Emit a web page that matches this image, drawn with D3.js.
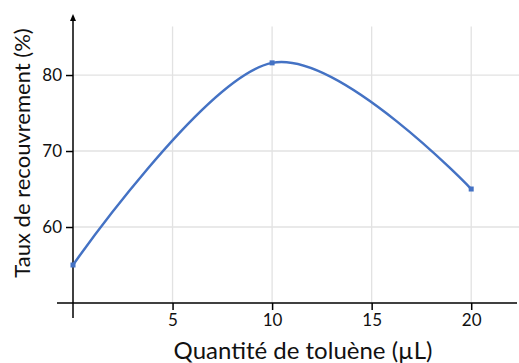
<!DOCTYPE html>
<html><head><meta charset="utf-8">
<script src="https://cdn.jsdelivr.net/npm/d3@7"></script>
<style>body{margin:0;background:#fff}svg{display:block}</style>
</head><body>
<svg id="c" width="519" height="363"></svg>
<script>
const xValues = [0, 10, 20];
const yValues = [55, 81.6, 65];
const xTicks = [5, 10, 15, 20];
const yTicks = [60, 70, 80];
const xTitle = "Quantité de toluène (µL)";
const yTitle = "Taux de recouvrement (%)";

const svg = d3.select("#c");
const font = "Lato, 'Open Sans', sans-serif";
const x = d3.scaleLinear().domain([0, 22.3]).range([73, 517]);
const y = d3.scaleLinear().domain([50, 87.9]).range([303, 15]);

// grid
svg.append("g").selectAll("line").data(xTicks).join("line")
  .attr("x1", d => x(d)).attr("x2", d => x(d))
  .attr("y1", y(86.4)).attr("y2", y(50))
  .attr("stroke", "#e2e2e2").attr("stroke-width", 1.3);
svg.append("g").selectAll("line").data(yTicks).join("line")
  .attr("x1", x(0)).attr("x2", 519)
  .attr("y1", d => y(d)).attr("y2", d => y(d))
  .attr("stroke", "#e2e2e2").attr("stroke-width", 1.3);

// x axis
const xa = svg.append("g").attr("transform", `translate(0,${y(50)})`)
  .call(d3.axisBottom(x).tickValues(xTicks).tickSize(7).tickSizeOuter(0).tickPadding(4));
xa.select(".domain").remove();
xa.selectAll("line").attr("stroke", "#000").attr("stroke-width", 1.5);
xa.selectAll("text").attr("font-family", font).attr("font-size", 17).attr("fill", "#111");
svg.append("line").attr("x1", 57).attr("x2", 517).attr("y1", y(50)).attr("y2", y(50))
  .attr("stroke", "#000").attr("stroke-width", 1.5);

// y axis
const ya = svg.append("g").attr("transform", `translate(${x(0)},0)`)
  .call(d3.axisLeft(y).tickValues(yTicks).tickSize(7).tickSizeOuter(0).tickPadding(4));
ya.select(".domain").remove();
ya.selectAll("line").attr("stroke", "#000").attr("stroke-width", 1.5);
ya.selectAll("text").attr("font-family", font).attr("font-size", 17).attr("fill", "#111");
svg.append("line").attr("x1", x(0)).attr("x2", x(0)).attr("y1", 318).attr("y2", 19)
  .attr("stroke", "#000").attr("stroke-width", 1.5);
svg.append("path").attr("d", `M${x(0)-3},${21} L${x(0)},${14} L${x(0)+3},${21} Z`).attr("fill", "#000");

// line
const pts = xValues.map((v, i) => [v, yValues[i]]);
svg.append("path").datum(pts)
  .attr("d", d3.line().x(d => x(d[0])).y(d => y(d[1])).curve(d3.curveCardinal.tension(0)))
  .attr("fill", "none").attr("stroke", "#4472C4").attr("stroke-width", 2.5);
svg.append("g").selectAll("rect").data(pts).join("rect")
  .attr("x", d => x(d[0]) - 2.5).attr("y", d => y(d[1]) - 2.5)
  .attr("width", 5).attr("height", 5).attr("fill", "#4472C4");

// titles
svg.append("text").attr("x", 303).attr("y", 359).attr("text-anchor", "middle")
  .attr("font-family", font).attr("font-size", 24).attr("fill", "#111").text(xTitle);
svg.append("text").attr("transform", `translate(30,153) rotate(-90)`).attr("text-anchor", "middle")
  .attr("font-family", font).attr("font-size", 22).attr("fill", "#111").text(yTitle);
</script>
</body></html>
